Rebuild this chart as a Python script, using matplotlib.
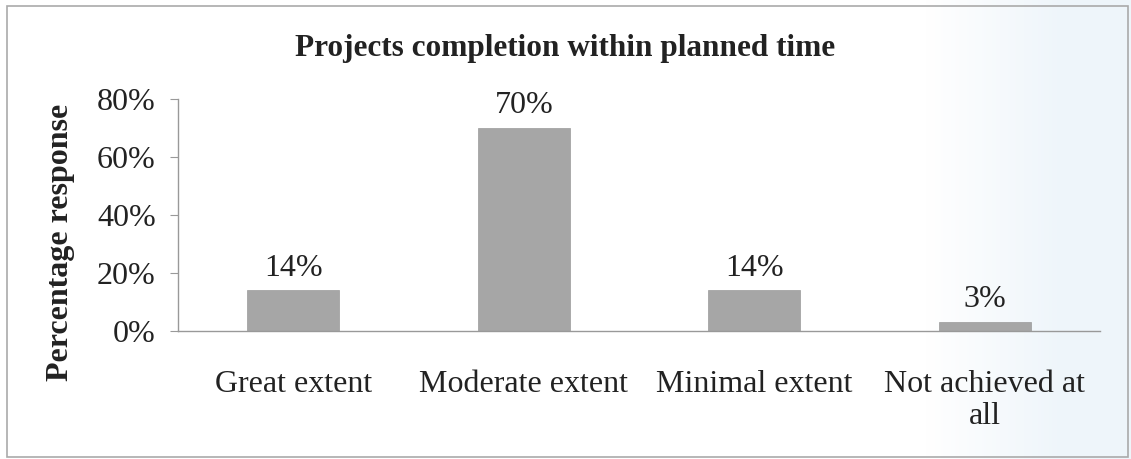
import matplotlib
matplotlib.use("Agg")
import matplotlib.pyplot as plt
import numpy as np
from matplotlib.patches import Rectangle
from matplotlib.ticker import FuncFormatter

categories = ["Great extent", "Moderate extent", "Minimal extent", "Not achieved at\nall"]
values = [0.14, 0.70, 0.14, 0.03]
labels = ["14%", "70%", "14%", "3%"]
yticks = [0, 0.2, 0.4, 0.6, 0.8]

plt.rcParams['font.family'] = ['Liberation Serif', 'DejaVu Serif']

fig = plt.figure(figsize=(11.31, 4.59), dpi=100)
fig.patch.set_facecolor('white')

# faint scan tint on the right side of the page
bg = fig.add_axes([0, 0, 1, 1], zorder=-10)
bg.axis('off')
xs = np.linspace(0, 1, 400)
t = np.clip((xs - 0.82) / 0.12, 0, 1)
white = np.array([1.0, 1.0, 1.0])
tint = np.array([0.935, 0.962, 0.982])
grad = (white[None, :] * (1 - t[:, None]) + tint[None, :] * t[:, None])[None, :, :]
bg.imshow(grad, aspect='auto', extent=[0, 1, 0, 1], transform=bg.transAxes)

ax = fig.add_axes([0.1574, 0.2789, 0.8152, 0.5054])
ax.patch.set_alpha(0)

x = list(range(len(categories)))
ax.bar(x, values, width=0.40, color='#a6a6a6', edgecolor='#9a9a9a', linewidth=0.5, zorder=2)
for xi, v, lab in zip(x, values, labels):
    ax.text(xi, v + 0.027, lab, ha='center', va='bottom', fontsize=23, color='#222222')

ax.set_xlim(-0.5, 3.5)
ax.set_ylim(0, 0.8)
ax.set_yticks(yticks)
ax.yaxis.set_major_formatter(FuncFormatter(lambda v, p: f"{v*100:.0f}%"))
ax.set_xticks(x)
ax.set_xticklabels(categories, fontsize=23, color='#222222', linespacing=1.15)
ax.tick_params(axis='y', labelsize=23, labelcolor='#222222', length=6, color='#999999', pad=10)
ax.tick_params(axis='x', length=0, pad=28)

for s in ['top', 'right']:
    ax.spines[s].set_visible(False)
ax.spines['left'].set_color('#999999')
ax.spines['bottom'].set_color('#999999')
ax.spines['left'].set_linewidth(1.0)
ax.spines['bottom'].set_linewidth(1.0)

ax.set_ylabel("Percentage response", fontsize=23, fontweight='bold', color='#222222')
ax.yaxis.set_label_coords(-0.112, 0.38)
fig.text(0.5, 0.895, "Projects completion within planned time", ha='center', va='center',
         fontsize=22.5, fontweight='bold', color='#222222')

fig.patches.append(Rectangle((0.006, 0.004), 0.991, 0.983, transform=fig.transFigure,
                             fill=False, edgecolor='#aaaaaa', linewidth=1.2))

fig.savefig("out.png", dpi=100)
